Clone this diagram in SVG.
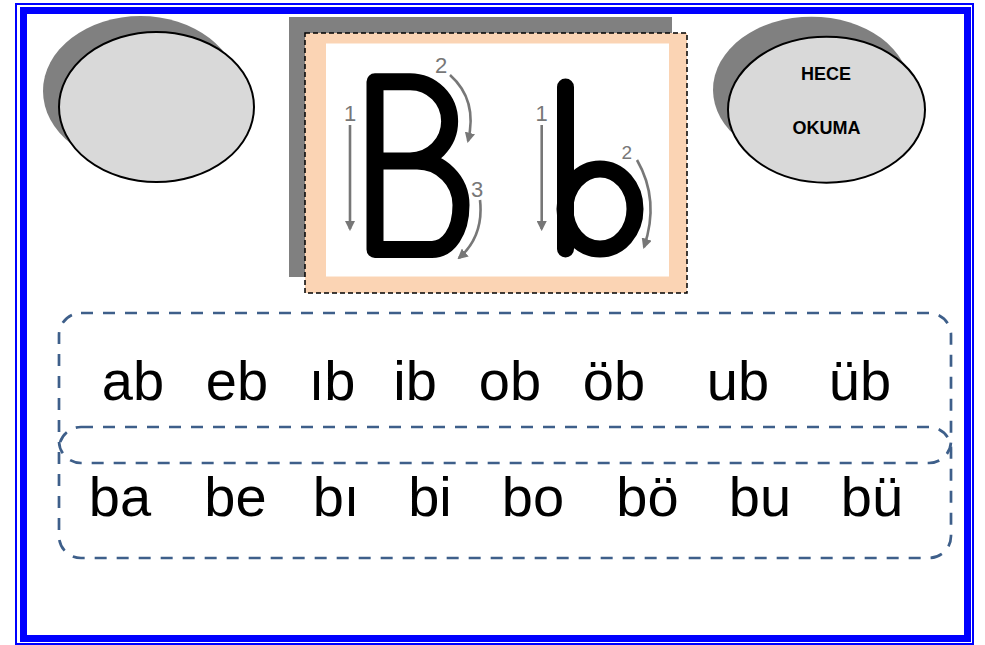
<svg xmlns="http://www.w3.org/2000/svg" width="985" height="645" viewBox="0 0 985 645">
<style>
.frame{fill:none;stroke:#0000FF}
.shadow{fill:#808080}
.oval{fill:#D9D9D9;stroke:#000;stroke-width:2}
.title{font-family:"Liberation Sans Narrow","Liberation Sans",Arial,sans-serif;font-weight:bold;font-size:18px;fill:#000;text-anchor:middle}
.dbox{fill:none;stroke:#3E5F8A;stroke-width:2.7;stroke-dasharray:12 10}
.syl{font-family:"Liberation Sans",Arial,sans-serif;font-size:56px;fill:#000;text-anchor:middle}
.letter{fill:none;stroke:#000;stroke-width:17;stroke-linecap:round;stroke-linejoin:round}
.guide{fill:none;stroke:#777;stroke-width:2.6;marker-end:url(#ah)}
.num{font-family:"Liberation Sans",Arial,sans-serif;font-size:22px;fill:#777;text-anchor:middle}
</style>
<defs>
<marker id="ah" viewBox="0 0 10 10" refX="8" refY="5" markerWidth="4" markerHeight="4" orient="auto" markerUnits="strokeWidth">
<path d="M0,0 L10,5 L0,10 Z" fill="#777"/>
</marker>
</defs>
<rect width="985" height="645" fill="#fff"/>
<g id="frame">
<rect class="frame" x="16" y="4" width="957" height="640" stroke-width="2"/>
<rect class="frame" x="23.5" y="10.5" width="944" height="628" stroke-width="7"/>
</g>
<g id="left-oval">
<ellipse class="shadow" cx="140.5" cy="91" rx="97.5" ry="75"/>
<ellipse class="oval" cx="156.5" cy="107" rx="97.5" ry="75"/>
</g>
<g id="right-oval">
<ellipse class="shadow" cx="811.5" cy="89.7" rx="98.5" ry="73"/>
<ellipse class="oval" cx="826.5" cy="109.7" rx="98.5" ry="73"/>
<text class="title" x="826" y="80">HECE</text>
<text class="title" x="826.5" y="133.5">OKUMA</text>
</g>
<g id="letter-card">
<rect x="289" y="17" width="383" height="260" fill="#808080"/>
<rect x="305" y="33" width="382" height="260" fill="#FBD4B4" stroke="#000" stroke-width="1.5" stroke-dasharray="5 3"/>
<rect x="326" y="43.5" width="343" height="233" fill="#fff"/>
<path class="letter" d="M375 249.5 V81.7 H410 A39.6 39.6 0 0 1 410 161 H375 M410 161 H417 A44 44 0 0 1 461 205 C461 232 448 249.5 432 249.5 H375"/>
<line class="letter" x1="565.5" y1="87" x2="565.5" y2="249" stroke-width="16"/>
<ellipse class="letter" cx="600" cy="209" rx="35" ry="40" stroke-width="16"/>
<text class="num" x="350" y="120.5">1</text>
<line class="guide" x1="350" y1="125" x2="350" y2="229"/>
<text class="num" x="441" y="72.5">2</text>
<path class="guide" d="M450 75 Q478 100 468 141"/>
<text class="num" x="477" y="197">3</text>
<path class="guide" d="M480 200 Q484 236 459 258"/>
<text class="num" x="541.7" y="120.5">1</text>
<line class="guide" x1="541.7" y1="125" x2="541.7" y2="229"/>
<text class="num" x="626.7" y="158.5" style="font-size:19px">2</text>
<path class="guide" d="M637 160 Q660 200 644 247"/>
</g>
<g id="box-vc">
<rect class="dbox" x="59" y="313" width="892" height="150" rx="22"/>
<text class="syl" x="133" y="400">ab</text>
<text class="syl" x="237" y="400">eb</text>
<text class="syl" x="332" y="400">ıb</text>
<text class="syl" x="415" y="400">ib</text>
<text class="syl" x="510" y="400">ob</text>
<text class="syl" x="614" y="400">öb</text>
<text class="syl" x="738" y="400">ub</text>
<text class="syl" x="860" y="400">üb</text>
</g>
<g id="box-cv">
<rect class="dbox" x="59" y="427" width="892" height="131" rx="22"/>
<text class="syl" x="120" y="516">ba</text>
<text class="syl" x="235.5" y="516">be</text>
<text class="syl" x="336" y="516">bı</text>
<text class="syl" x="430" y="516">bi</text>
<text class="syl" x="533" y="516">bo</text>
<text class="syl" x="647.5" y="516">bö</text>
<text class="syl" x="760" y="516">bu</text>
<text class="syl" x="872" y="516">bü</text>
</g>
<g id="connectors"></g>
</svg>
